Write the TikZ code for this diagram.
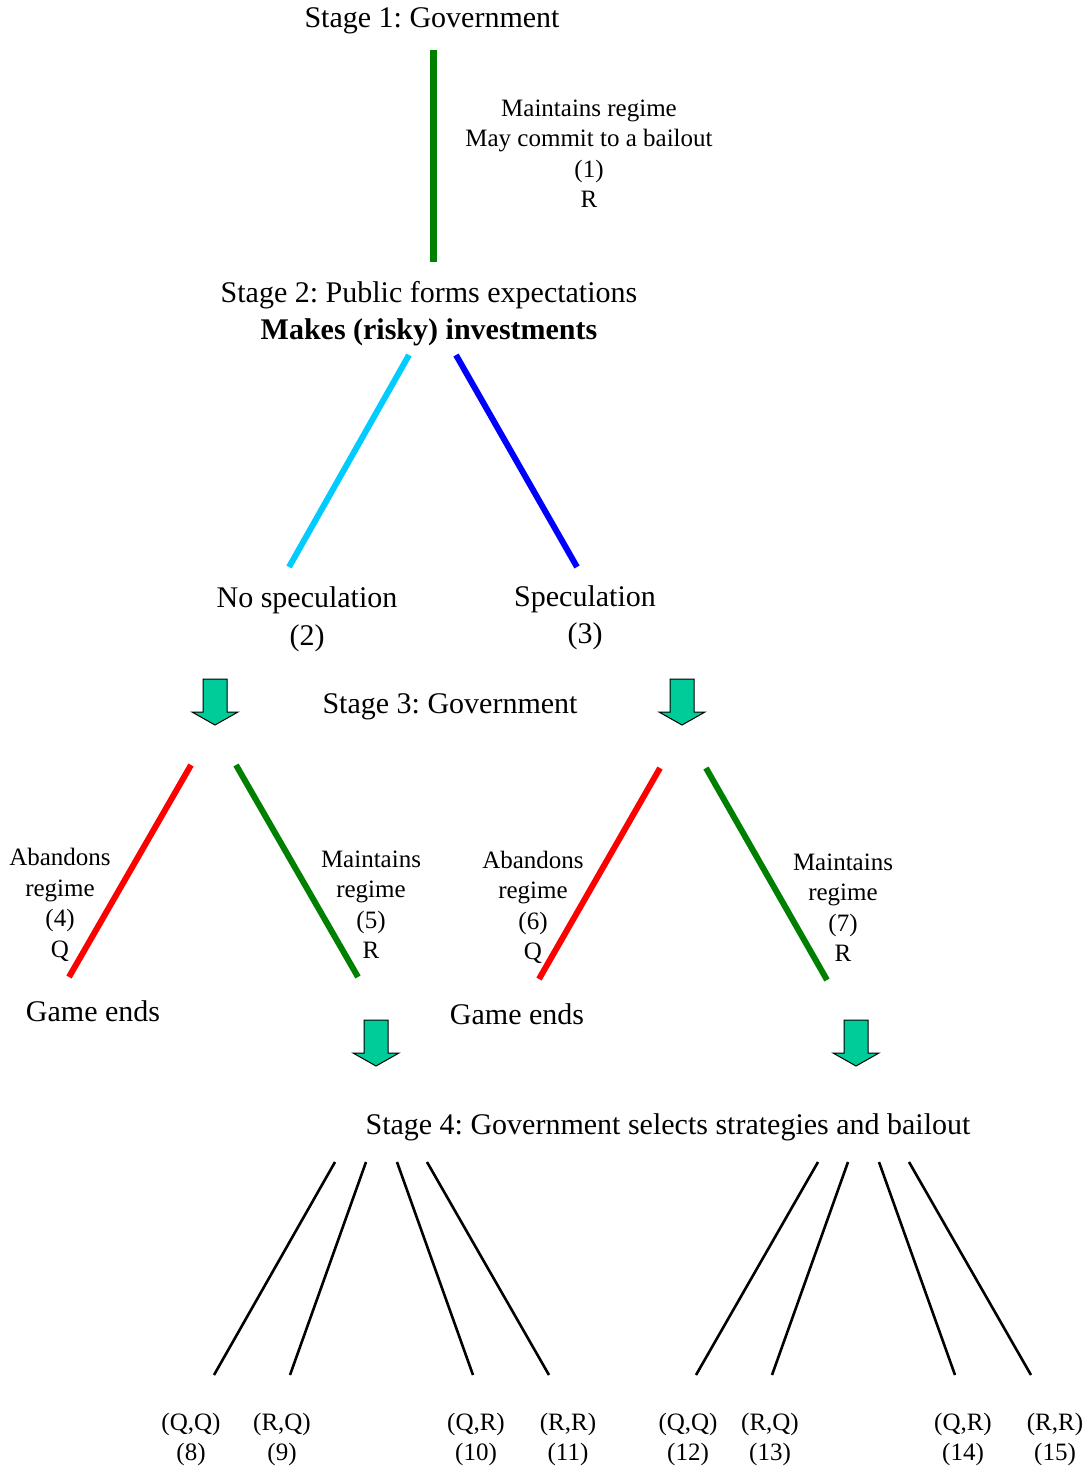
\documentclass[tikz,border=0pt]{standalone}
\usepackage{fontspec}
\setmainfont{Liberation Serif}
\frenchspacing
\begin{document}
\begin{tikzpicture}[x=1pt,y=-1pt,
  big/.style={font=\fontsize{30}{37}\selectfont, inner sep=0pt, align=center},
  small/.style={font=\fontsize{25}{30.5}\selectfont, inner sep=0pt, align=center},
  branch/.style={line width=6pt},
  leaf/.style={line width=2.6pt, black},
  downarrow/.pic={\draw[fill=arrowfill, line width=1pt, line join=miter]
     (-12,0) -- (12,0) -- (12,33) -- (23,33) -- (0,46) -- (-23,33) -- (-12,33) -- cycle;}
]
\definecolor{arrowfill}{RGB}{0,204,153}
\definecolor{dgreen}{RGB}{0,128,0}
\definecolor{lcyan}{RGB}{0,204,255}
\useasboundingbox (0,0) rectangle (1087,1468);
\fill[white] (0,0) rectangle (1087,1468);

% Stage 1
\node[big] (s1) at (432,21) {Stage 1: Government};
\coordinate (g1a) at (433,50);
\coordinate (g1b) at (433,262);
\draw[line width=7pt, dgreen] (g1a) -- (g1b);
\node[small] (l1) at (589,153.5) {Maintains regime\\May commit to a bailout\\(1)\\R};

% Stage 2
\node[big] (s2) at (429,314) {Stage 2: Public forms expectations\\\textbf{Makes (risky) investments}};
\coordinate (c2a) at (409,355); \coordinate (c2b) at (289,567);
\coordinate (b2a) at (456,355); \coordinate (b2b) at (577,567);
\draw[branch, lcyan] (c2a) -- (c2b);
\draw[branch, blue] (b2a) -- (b2b);
\node[big, font=\fontsize{30}{38}\selectfont] (ns) at (307,619.5) {No speculation\\(2)};
\node[big, font=\fontsize{30}{37}\selectfont] (sp) at (585,618) {Speculation\\(3)};

% Stage 3
\pic at (215,679) {downarrow};
\pic at (682,679) {downarrow};
\node[big] (s3) at (450,706.5) {Stage 3: Government};

\coordinate (r1a) at (191,765); \coordinate (r1b) at (69,977);
\coordinate (m1a) at (236,765); \coordinate (m1b) at (358,977);
\draw[branch, red] (r1a) -- (r1b);
\draw[branch, dgreen] (m1a) -- (m1b);
\node[small] (ab4) at (60,905) {Abandons\\regime\\(4)\\Q};
\node[small] (mt5) at (371,904.5) {Maintains\\regime\\(5)\\R};
\node[big] (ge1) at (93,1011) {Game ends};

\coordinate (r2a) at (660,768); \coordinate (r2b) at (539,979);
\coordinate (m2a) at (706,768); \coordinate (m2b) at (827,980);
\draw[branch, red] (r2a) -- (r2b);
\draw[branch, dgreen] (m2a) -- (m2b);
\node[small] (ab6) at (533,907.5) {Abandons\\regime\\(6)\\Q};
\node[small] (mt7) at (843,907.5) {Maintains\\regime\\(7)\\R};
\node[big] (ge2) at (517,1014) {Game ends};

% Stage 4
\pic at (376,1020) {downarrow};
\pic at (856,1020) {downarrow};
\node[big] (s4) at (668,1127) {Stage 4: Government selects strategies and bailout};

\coordinate (k1a) at (335,1162); \coordinate (k1b) at (214,1375);
\coordinate (k2a) at (366,1162); \coordinate (k2b) at (290,1375);
\coordinate (k3a) at (397,1162); \coordinate (k3b) at (473,1375);
\coordinate (k4a) at (427,1162); \coordinate (k4b) at (549,1375);
\coordinate (k5a) at (818,1162); \coordinate (k5b) at (696,1375);
\coordinate (k6a) at (848,1162); \coordinate (k6b) at (772,1375);
\coordinate (k7a) at (879,1162); \coordinate (k7b) at (955,1375);
\coordinate (k8a) at (909,1162); \coordinate (k8b) at (1031,1375);
\foreach \i in {1,...,8} {\draw[leaf] (k\i a) -- (k\i b);}

\node[small] (o8)  at (191,1439.5) {(Q,Q)\\(8)};
\node[small] (o9)  at (282,1439.5) {(R,Q)\\(9)};
\node[small] (o10) at (476,1439.5) {(Q,R)\\(10)};
\node[small] (o11) at (568,1439.5) {(R,R)\\(11)};
\node[small] (o12) at (688,1439.5) {(Q,Q)\\(12)};
\node[small] (o13) at (770,1439.5) {(R,Q)\\(13)};
\node[small] (o14) at (963,1439.5) {(Q,R)\\(14)};
\node[small] (o15) at (1055,1439.5) {(R,R)\\(15)};
\end{tikzpicture}
\end{document}
